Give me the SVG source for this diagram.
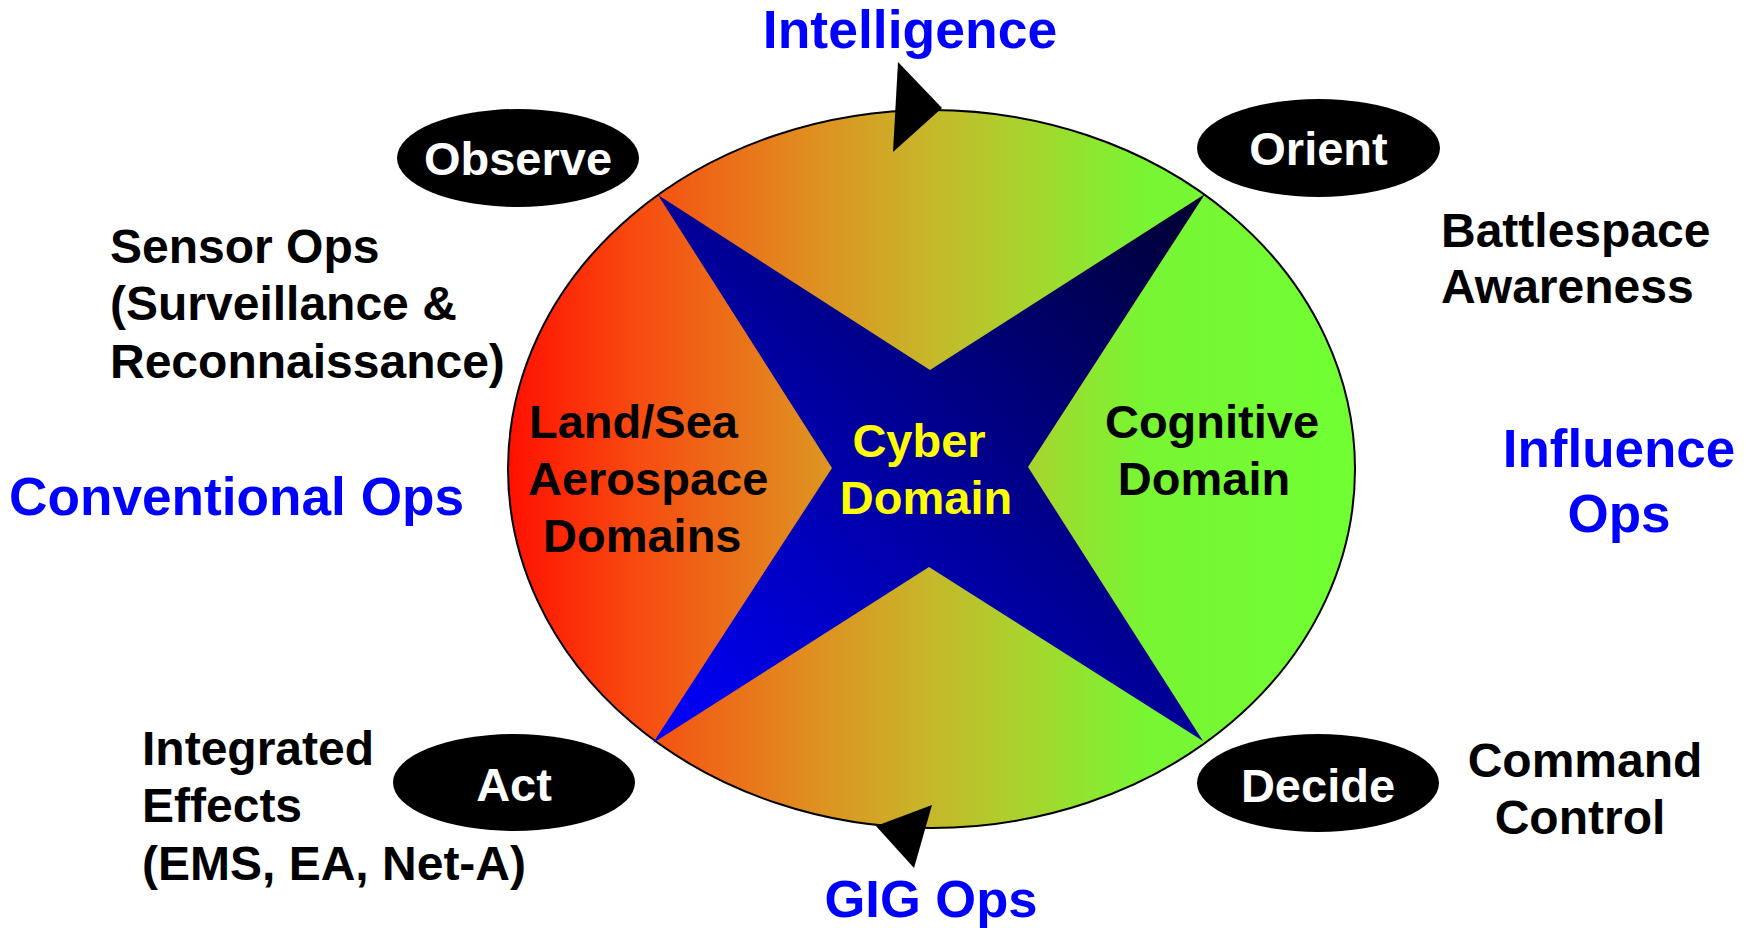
<svg xmlns="http://www.w3.org/2000/svg" width="1753" height="928" viewBox="0 0 1753 928">
<style>
text{font-family:"Liberation Sans",Arial,sans-serif;font-weight:bold;}
.blk{fill:#000;font-size:48px;}
.blu{fill:#0000ff;font-size:52.5px;}
.wht{fill:#fff;font-size:47px;text-anchor:middle;}
.yel{fill:#ffff00;font-size:47px;text-anchor:middle;}
.dom{fill:#000;font-size:47px;}
.pill{fill:#000;}
.arrow{fill:#000;}
</style>
<defs>
<linearGradient id="ring" gradientUnits="userSpaceOnUse" x1="508" y1="0" x2="1355" y2="0">
<stop offset="0" stop-color="#ff1000"/>
<stop offset="0.15" stop-color="#f84a10"/>
<stop offset="0.35" stop-color="#e18c20"/>
<stop offset="0.5" stop-color="#c6b82a"/>
<stop offset="0.62" stop-color="#a6d62e"/>
<stop offset="0.75" stop-color="#78f533"/>
<stop offset="1" stop-color="#70ff33"/>
</linearGradient>
<linearGradient id="star" gradientUnits="userSpaceOnUse" x1="653" y1="743" x2="1205" y2="194">
<stop offset="0" stop-color="#0000ff"/>
<stop offset="1" stop-color="#000030"/>
</linearGradient>
</defs>

<g id="domain-ellipse">
<ellipse cx="931.5" cy="469" rx="423.5" ry="359" fill="url(#ring)" stroke="#000" stroke-width="2"/>
</g>
<g id="cyber-star">
<polygon points="658,195 930,370 1205,194 1028,467 1203,741 929,567 653,743 832,468" fill="url(#star)"/>
</g>

<g id="connectors">
<polygon class="arrow" points="898,62 942,108 893,152"/>
<polygon class="arrow" points="932,805 876,826 914,868"/>
</g>

<g id="node-observe">
<ellipse class="pill" cx="518" cy="158" rx="121" ry="49"/>
<text class="wht" x="518" y="175">Observe</text>
</g>
<g id="node-orient">
<ellipse class="pill" cx="1318.5" cy="148" rx="121.5" ry="49"/>
<text class="wht" x="1318.5" y="165">Orient</text>
</g>
<g id="node-act">
<ellipse class="pill" cx="514" cy="782.5" rx="121" ry="48.5"/>
<text class="wht" x="514" y="801">Act</text>
</g>
<g id="node-decide">
<ellipse class="pill" cx="1318" cy="783" rx="121" ry="49"/>
<text class="wht" x="1318" y="802">Decide</text>
</g>

<g id="label-landsea">
<text class="dom" x="529" y="438">Land/Sea</text>
<text class="dom" x="528" y="495">Aerospace</text>
<text class="dom" x="543" y="552">Domains</text>
</g>
<g id="label-cyber">
<text class="yel" x="919" y="457">Cyber</text>
<text class="yel" x="926" y="514">Domain</text>
</g>
<g id="label-cognitive">
<text class="dom" x="1212" y="438" text-anchor="middle">Cognitive</text>
<text class="dom" x="1204" y="495" text-anchor="middle">Domain</text>
</g>

<g id="label-intelligence">
<text class="blu" x="910" y="48" text-anchor="middle" style="font-size:53.5px">Intelligence</text>
</g>
<g id="label-gig">
<text class="blu" x="931" y="917" text-anchor="middle">GIG Ops</text>
</g>
<g id="label-conventional">
<text class="blu" x="9" y="515" style="font-size:53.2px">Conventional Ops</text>
</g>
<g id="label-influence">
<text class="blu" x="1619" y="467" text-anchor="middle" style="font-size:53px">Influence</text>
<text class="blu" x="1619" y="532" text-anchor="middle" style="font-size:53px">Ops</text>
</g>

<g id="label-sensor">
<text class="blk" x="110" y="263">Sensor Ops</text>
<text class="blk" x="110" y="320">(Surveillance &amp;</text>
<text class="blk" x="110" y="378">Reconnaissance)</text>
</g>
<g id="label-battlespace">
<text class="blk" x="1441" y="247">Battlespace</text>
<text class="blk" x="1441" y="303">Awareness</text>
</g>
<g id="label-integrated">
<text class="blk" x="142" y="765">Integrated</text>
<text class="blk" x="142" y="822">Effects</text>
<text class="blk" x="142" y="880">(EMS, EA, Net-A)</text>
</g>
<g id="label-command">
<text class="blk" x="1585" y="777" text-anchor="middle">Command</text>
<text class="blk" x="1580" y="834" text-anchor="middle">Control</text>
</g>
</svg>
